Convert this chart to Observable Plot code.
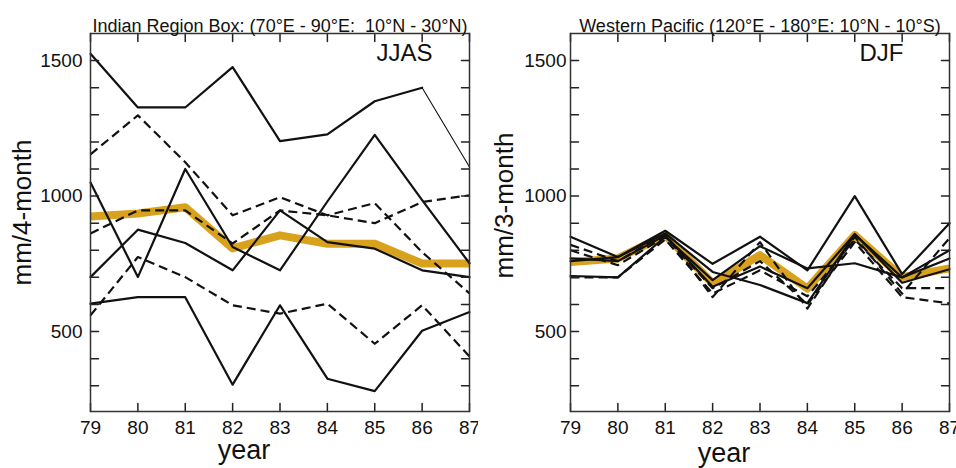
<!DOCTYPE html>
<html><head><meta charset="utf-8">
<script src="https://cdn.jsdelivr.net/npm/d3@7"></script>
<script src="https://cdn.jsdelivr.net/npm/@observablehq/plot@0.6"></script>
<style>
body{margin:0;background:#fff;}
#wrap{display:flex;width:956px;height:468px;overflow:hidden;}
</style></head><body><div id="wrap"></div>
<script>
const years = [79, 80, 81, 82, 83, 84, 85, 86, 87];
const yMinorTicks = [300, 400, 500, 600, 700, 800, 900, 1000, 1100, 1200, 1300, 1400, 1500];
const yTickLabels = [500, 1000, 1500];

// Indian region, JJAS (mm/4-month)
const jjasSolidA = [1525, 1327, 1327, 1476, 1203, 1228, 1350, 1400, 1107];
const jjasSolidE = [603, 627, 627, 304, 597, 326, 280, 503, 572];
const jjasSolidF = [1050, 701, 1100, 812, 726, 980, 1226, 985, 752];
const jjasSolidG = [701, 876, 827, 726, 947, 830, 806, 726, 701];
const jjasDashB = [1154, 1298, 1125, 929, 996, 929, 974, 793, 641];
const jjasDashC = [862, 947, 947, 825, 947, 929, 900, 978, 1003];
const jjasDashD = [560, 775, 701, 597, 566, 603, 455, 597, 408];
const jjasMean = [925, 936, 959, 807, 855, 824, 824, 751, 751];

// Western Pacific, DJF (mm/3-month)
const djfSolid1 = [850, 775, 872, 750, 850, 726, 1000, 712, 900];
const djfSolid2 = [760, 775, 862, 720, 672, 605, 858, 700, 770];
const djfSolid3 = [705, 700, 850, 690, 815, 733, 752, 700, 800];
const djfSolid4 = [770, 760, 855, 665, 740, 660, 860, 680, 730];
const djfDash1 = [700, 700, 840, 640, 726, 630, 840, 660, 660];
const djfDash2 = [800, 745, 850, 660, 760, 600, 830, 627, 604];
const djfDash3 = [820, 760, 860, 627, 830, 585, 850, 640, 845];
const djfMean = [757, 770, 856, 678, 782, 659, 856, 701, 733];

const GOLD = "#d9a21d";
const FONT = "'Liberation Sans', Arial, Helvetica, sans-serif";
const W = 478, H = 468, MT = 33, MB = 57, TICK = 8;

function rows(name, values) {
  return values.map((v, i) => ({series: name, year: years[i], value: v}));
}

function panel({title, season, ylabel, solid, dashed, mean, thin, marginLeft, marginRight, labelPad, ylabelDx, ylabelDy, yearDy, seasonDx}) {
  const solidData = solid.flatMap(([n, v]) => rows(n, v));
  const dashData = dashed.flatMap(([n, v]) => rows(n, v));
  const meanData = rows("mean", mean);
  const marks = [
    Plot.line(meanData, {x: "year", y: "value", stroke: GOLD, strokeWidth: 8, strokeLinejoin: "round", strokeLinecap: "butt"}),
    Plot.line(solidData, {x: "year", y: "value", z: "series", stroke: "#111", strokeWidth: 2.2}),
    Plot.line(dashData, {x: "year", y: "value", z: "series", stroke: "#111", strokeWidth: 2.2, strokeDasharray: "9,5", strokeLinecap: "butt"})
  ];
  if (thin) {
    const t = rows("thin", thin.values).filter(d => d.year >= thin.from);
    marks.push(Plot.line(t, {x: "year", y: "value", stroke: "#111", strokeWidth: 1.1}));
  }
  const fmt = d => String(d);
  // inward ticks on all four sides, as short vectors of fixed pixel length
  const tickShape = {draw(context, l) { context.moveTo(0, 0); context.lineTo(0, -l); }};
  const tickStyle = {length: TICK, anchor: "start", shape: tickShape, stroke: "#222", strokeWidth: 1.5};
  marks.push(
    Plot.vector(yMinorTicks, {x: 79, y: d => d, rotate: 90, ...tickStyle}),
    Plot.vector(yMinorTicks, {x: 87, y: d => d, rotate: -90, ...tickStyle}),
    Plot.vector(years, {x: d => d, y: 205, rotate: 0, ...tickStyle}),
    Plot.vector(years, {x: d => d, y: 1600, rotate: 180, ...tickStyle}),
    Plot.frame({stroke: "#333", strokeWidth: 1.5}),
    Plot.axisX({anchor: "bottom", ticks: years, tickSize: 0, tickPadding: 9, fontSize: 19, tickFormat: fmt, label: null, fill: "#111"}),
    Plot.axisY({anchor: "left", ticks: yTickLabels, tickSize: 0, tickPadding: labelPad, fontSize: 19, tickFormat: fmt, label: null, fill: "#111"}),
    Plot.text([title], {frameAnchor: "top", dy: -14, fontSize: 18, fill: "#111"}),
    Plot.text([season], {frameAnchor: "top-right", textAnchor: "end", lineAnchor: "top", dx: seasonDx, dy: 10, fontSize: 24, fill: "#111"}),
    Plot.text([ylabel], {frameAnchor: "left", textAnchor: "middle", rotate: -90, dx: ylabelDx, dy: ylabelDy, fontSize: 26, fill: "#111"}),
    Plot.text(["year"], {frameAnchor: "bottom", textAnchor: "middle", lineAnchor: "bottom", dx: -36, dy: yearDy, fontSize: 27, fill: "#111"})
  );
  return Plot.plot({
    width: W,
    height: H,
    marginLeft, marginRight,
    marginTop: MT,
    marginBottom: MB,
    style: {fontFamily: FONT, background: "white", overflow: "visible"},
    x: {domain: [79, 87]},
    y: {domain: [205, 1600]},
    marks
  });
}

const left = panel({
  title: "Indian Region Box: (70°E - 90°E:  10°N - 30°N)",
  season: "JJAS",
  ylabel: "mm/4-month",
  solid: [["A", jjasSolidA.slice(0, 8)], ["E", jjasSolidE], ["F", jjasSolidF], ["G", jjasSolidG]],
  dashed: [["B", jjasDashB], ["C", jjasDashC], ["D", jjasDashD]],
  mean: jjasMean,
  thin: {values: jjasSolidA, from: 86},
  marginLeft: 90, marginRight: 9, labelPad: 8, ylabelDx: -68, ylabelDy: -10, yearDy: 47, seasonDx: -37
});
const right = panel({
  title: "Western Pacific (120°E - 180°E: 10°N - 10°S)",
  season: "DJF",
  ylabel: "mm/3-month",
  solid: [["1", djfSolid1], ["2", djfSolid2], ["3", djfSolid3], ["4", djfSolid4]],
  dashed: [["d1", djfDash1], ["d2", djfDash2], ["d3", djfDash3]],
  mean: djfMean,
  thin: null,
  marginLeft: 92, marginRight: 7, labelPad: 4, ylabelDx: -66, ylabelDy: -17, yearDy: 50, seasonDx: -46
});
const wrap = document.getElementById("wrap");
wrap.append(left, right);
</script></body></html>
